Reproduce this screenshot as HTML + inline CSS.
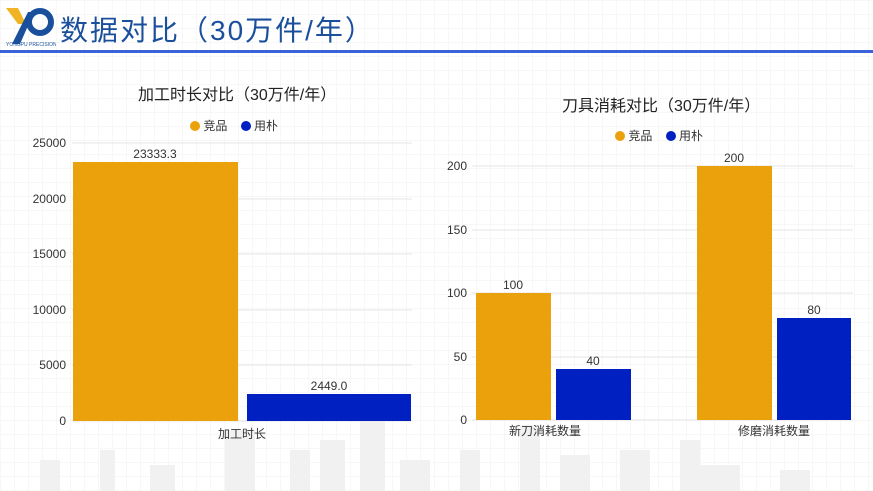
<!DOCTYPE html>
<html><head><meta charset="utf-8"><style>
body{margin:0;width:873px;height:491px;overflow:hidden;background:#fff;font-family:"Liberation Sans","Noto Sans CJK SC",sans-serif;position:relative}
.a{position:absolute}
.t{font-size:12px;color:#333;white-space:nowrap}
</style></head><body>
<div class="a" style="left:0;top:0;width:873px;height:491px;background-image:linear-gradient(#f2f2f2 1px,transparent 1px),linear-gradient(90deg,#f2f2f2 1px,transparent 1px);background-size:14px 14px;opacity:.6"></div>
<svg class="a" style="left:0;top:420px" width="873" height="71"><g fill="#f1f1f1">
<rect x="40" y="40" width="20" height="31"/><rect x="100" y="30" width="15" height="41"/><rect x="150" y="45" width="25" height="26"/><rect x="225" y="10" width="30" height="61"/><rect x="290" y="30" width="20" height="41"/><rect x="320" y="20" width="25" height="51"/><rect x="360" y="0" width="25" height="71"/><rect x="400" y="40" width="30" height="31"/><rect x="460" y="30" width="20" height="41"/><rect x="520" y="5" width="20" height="66"/><rect x="560" y="35" width="30" height="36"/><rect x="620" y="30" width="30" height="41"/><rect x="680" y="20" width="20" height="51"/><rect x="700" y="45" width="40" height="26"/><rect x="780" y="50" width="30" height="21"/></g></svg>
<svg class="a" style="left:4px;top:4px" width="52" height="44"><path d="M2 4 L14 4 L22 20 L14 20Z" fill="#f0b323"/><path d="M8 40 L24 8 L30 8 L16 40Z" fill="#1a4f9c"/><circle cx="36" cy="18" r="11" fill="none" stroke="#1a4f9c" stroke-width="6"/><text x="2" y="42" font-size="5" fill="#1a4f9c">YONGPU PRECISION</text></svg>
<div class="a" style="left:60px;top:9px;font-size:28px;color:#1a4f9c;letter-spacing:2px">数据对比（30万件/年）</div>
<div class="a" style="left:0;top:50px;width:873px;height:3px;background:#3a63d8"></div>

<div class="a" style="left:138px;top:81px;font-size:16px;color:#222">加工时长对比（30万件/年）</div>
<div class="a t" style="left:190px;top:117px"><span style="display:inline-block;width:10px;height:10px;border-radius:50%;background:#eba10b;vertical-align:-1px"></span> 竞品 &nbsp;&nbsp; <span style="display:inline-block;width:10px;height:10px;border-radius:50%;background:#0020c2;vertical-align:-1px"></span> 用朴</div>
<svg class="a" style="left:0;top:0" width="873" height="491">
<g stroke="#e6e6e6"><line x1="72" x2="412" y1="143" y2="143"/><line x1="72" x2="412" y1="199" y2="199"/><line x1="72" x2="412" y1="254" y2="254"/><line x1="72" x2="412" y1="310" y2="310"/><line x1="72" x2="412" y1="365" y2="365"/><line x1="72" x2="412" y1="421" y2="421"/>
<line x1="472" x2="853" y1="166" y2="166"/><line x1="472" x2="853" y1="230" y2="230"/><line x1="472" x2="853" y1="293" y2="293"/><line x1="472" x2="853" y1="357" y2="357"/><line x1="472" x2="853" y1="420" y2="420"/></g>
<rect x="73" y="162" width="165" height="259" fill="#eba10b"/><rect x="247" y="394" width="164" height="27" fill="#0020c2"/>
<rect x="476" y="293" width="75" height="127" fill="#eba10b"/><rect x="556" y="369" width="75" height="51" fill="#0020c2"/>
<rect x="697" y="166" width="75" height="254" fill="#eba10b"/><rect x="777" y="318" width="74" height="102" fill="#0020c2"/>
<g font-size="12" fill="#333" text-anchor="end"><text x="66" y="147">25000</text><text x="66" y="203">20000</text><text x="66" y="258">15000</text><text x="66" y="314">10000</text><text x="66" y="369">5000</text><text x="66" y="425">0</text>
<text x="467" y="170">200</text><text x="467" y="234">150</text><text x="467" y="297">100</text><text x="467" y="361">50</text><text x="467" y="424">0</text></g>
<g font-size="12" fill="#333" text-anchor="middle"><text x="155" y="158">23333.3</text><text x="329" y="390">2449.0</text><text x="513" y="289">100</text><text x="593" y="365">40</text><text x="734" y="162">200</text><text x="814" y="314">80</text>
<text x="242" y="438">加工时长</text><text x="545" y="435">新刀消耗数量</text><text x="774" y="435">修磨消耗数量</text></g>
</svg>
<div class="a" style="left:562px;top:92px;font-size:16px;color:#222">刀具消耗对比（30万件/年）</div>
<div class="a t" style="left:615px;top:127px"><span style="display:inline-block;width:10px;height:10px;border-radius:50%;background:#eba10b;vertical-align:-1px"></span> 竞品 &nbsp;&nbsp; <span style="display:inline-block;width:10px;height:10px;border-radius:50%;background:#0020c2;vertical-align:-1px"></span> 用朴</div>
</body></html>
